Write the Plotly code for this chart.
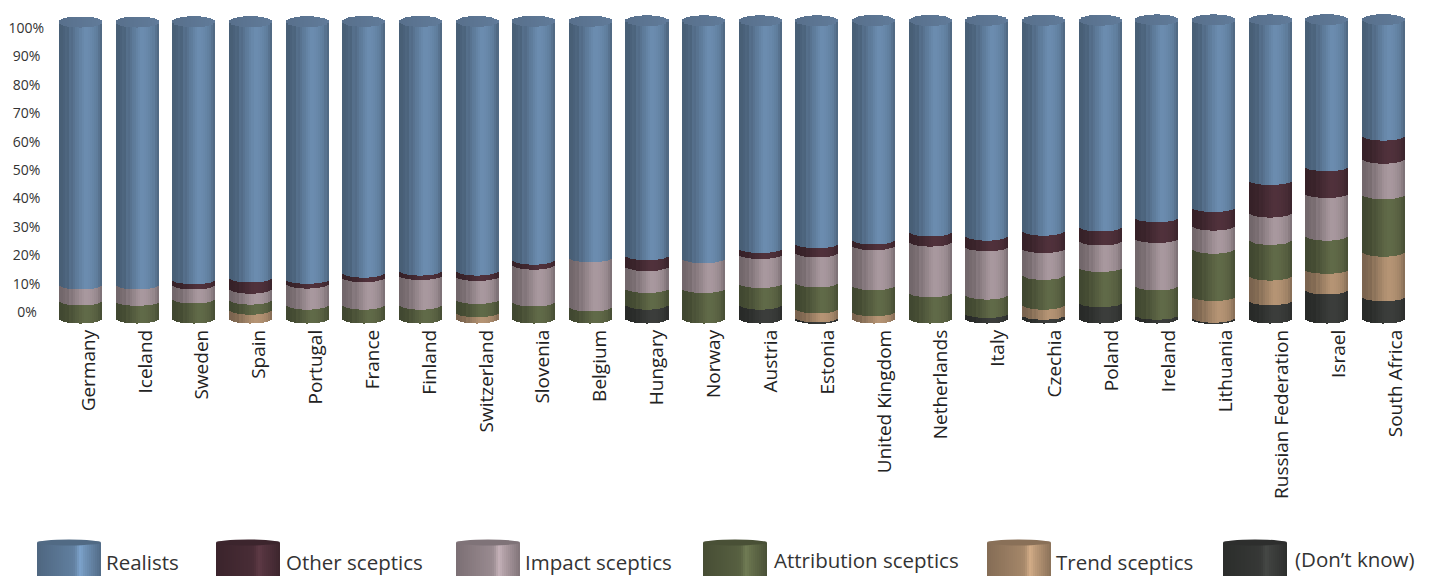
import plotly.graph_objects as go
import numpy as np

countries = ["Germany","Iceland","Sweden","Spain","Portugal","France","Finland","Switzerland","Slovenia","Belgium",
             "Hungary","Norway","Austria","Estonia","United Kingdom","Netherlands","Italy","Czechia","Poland","Ireland",
             "Lithuania","Russian Federation","Israel","South Africa"]
dont_know   = [0,0,0,0,0,0,0,0,0,0,4.7,0,4.7,0.4,0,0,1.9,1.3,5.5,1.3,0.3,6.2,9.8,7.5]
trend       = [0,0,0,3.0,0,0,0,2.1,0,0,0,0,0,3.0,2.5,0,0,3.4,0,0,7.3,8.3,7.0,15.1]
attribution = [6.1,6.0,6.8,3.4,4.7,4.7,4.7,4.5,5.8,4.1,5.6,10.3,7.3,8.8,8.8,8.9,6.2,10.1,11.9,9.9,16.0,12.1,11.2,19.4]
impact      = [5.4,5.5,4.7,3.7,7.1,9.3,10.0,7.8,12.4,16.6,7.4,10.1,9.8,10.1,13.5,17.1,16.3,9.0,9.0,16.0,7.8,9.2,14.4,12.0]
other       = [0,0,1.8,3.8,1.6,1.5,1.5,1.8,1.7,0,3.7,0,2.0,3.1,1.9,3.4,3.6,5.9,4.7,7.0,6.3,11.0,9.0,7.8]
realists    = [88.5,88.5,86.8,86.2,86.7,84.7,84.0,84.0,80.4,79.6,79.0,80.0,76.6,75.0,73.8,71.1,72.6,70.9,69.5,66.5,63.0,53.9,49.4,39.0]
series_names = ["(Don\u2019t know)","Trend sceptics","Attribution sceptics","Impact sceptics","Other sceptics","Realists"]
tick_values = list(range(0,101,10))
tick_labels = ["0%\u00a0\u00a0","10%\u00a0","20%\u00a0","30%\u00a0","40%\u00a0","50%\u00a0","60%\u00a0","70%\u00a0","80%\u00a0","90%\u00a0","100%"]

colors = {"Realists":(104,136,170),"Other sceptics":(78,48,58),"Impact sceptics":(164,148,154),
          "Attribution sceptics":(94,103,70),"Trend sceptics":(176,144,113),"(Don\u2019t know)":(58,60,58)}
cap_color = (92,117,146)
shade = [.70,.70,.72,.75,.74,.82,.80,.85,.90,.92,.97,1.0,1.03,1.03,1.02,1.0,.98,.95,.92,.85,.78]

# the page puts an 8px margin round the figure, so the figure is that much smaller
OFF = 8
W,H = 1432-OFF,576-OFF
PITCH,CX0,CYL_W = 56.65,80.5,43
PLOT_L,PLOT_B = 46,325
Y0,PX_PER = 319,2.97
LY0,LPX = 312,2.84

def px(x): return (x-OFF)/W
def py(y): return 1-(y-OFF)/H
def tint(c,f):
    return "rgb(%d,%d,%d)"%tuple(min(255,int(v*f)) for v in c)

N = len(shade)
u = (np.arange(N)+.5)/N*2-1
strip_off = u*CYL_W/2/PITCH
strip_w = CYL_W/N/PITCH*1.02
def depth(v):          # ellipse half-height in value units, growing a little with height
    return (4.5+v/100*1.0)/PX_PER*np.sqrt(1-u**2)

stack = [dont_know,trend,attribution,impact,other,realists]
cum = np.zeros(len(countries))
fig = go.Figure()
for name,vals in zip(series_names,stack):
    xs,bases,ys,cols = [],[],[],[]
    for i,v in enumerate(vals):
        if v<=0: continue
        d0,d1 = depth(cum[i]),depth(cum[i]+v)
        for k in range(N):
            xs.append(i+strip_off[k])
            bases.append(cum[i]-d0[k])
            ys.append(v+d0[k]-d1[k])
            cols.append(tint(colors[name],shade[k]))
    cum = cum+np.array(vals)
    fig.add_trace(go.Bar(name=name,x=xs,y=ys,base=bases,width=strip_w,yaxis="y2",
                         marker=dict(color=cols,line=dict(width=0)),showlegend=False,hoverinfo="skip"))
# top caps
xs,bases,ys,cols = [],[],[],[]
for i,t in enumerate(cum):
    d = (5.5/PX_PER)*np.sqrt(1-u**2)
    for k in range(N):
        xs.append(i+strip_off[k]); bases.append(t-d[k]); ys.append(2*d[k])
        cols.append(tint(cap_color,.96+.1*(k/N)))
fig.add_trace(go.Bar(name="top",x=xs,y=ys,base=bases,width=strip_w,yaxis="y2",
                     marker=dict(color=cols,line=dict(width=0)),showlegend=False,hoverinfo="skip"))
# carrier for the labelled percentage axis
fig.add_trace(go.Scatter(x=[0],y=[0],mode="markers",marker=dict(opacity=0),showlegend=False,hoverinfo="skip",yaxis="y"))

# legend swatches and labels
legend_items = [("Realists",37,104,562),("Other sceptics",216,284,562),("Impact sceptics",456,523,562),
                ("Attribution sceptics",703,772,560),("Trend sceptics",987,1054,562),("(Don\u2019t know)",1223,1293,559)]
sw_w = 64
shapes,annots = [],[]
for name,x0,tx,ty in legend_items:
    base = colors[name]
    for j in range(32):
        t = j/32
        f = .76+.32*t+.22*np.exp(-((t-.66)/.06)**2) if t<.7 else 1.12-.35*(t-.7)/.3
        shapes.append(dict(type="rect",xref="paper",yref="paper",layer="above",
                           x0=px(x0+j*2),x1=px(x0+j*2+(3 if j<31 else 2)),y0=0,y1=py(542.7),
                           line=dict(width=0),fillcolor=tint(base,f)))
    shapes.append(dict(type="circle",xref="paper",yref="paper",layer="above",
                       x0=px(x0),x1=px(x0+sw_w),y0=py(545.5),y1=py(539.5),
                       line=dict(width=0),fillcolor=tint(base,.78)))
    annots.append(dict(text=name,xref="paper",yref="paper",x=px(tx),y=py(ty),xanchor="left",yanchor="middle",
                       showarrow=False,font=dict(family="Open Sans",size=20.5,color="#333333")))

x_lo = (PLOT_L-CX0)/PITCH
x_hi = (W+OFF-CX0)/PITCH
fig.update_layout(
    width=W,height=H,margin=dict(l=0,r=0,t=0,b=0),autosize=False,
    paper_bgcolor="white",plot_bgcolor="white",barmode="overlay",bargap=0,
    shapes=shapes,annotations=annots,showlegend=False,
    font=dict(family="Open Sans",color="#333333"),
    xaxis=dict(domain=[px(PLOT_L),1],range=[x_lo,x_hi],tickmode="array",automargin=False,
               tickvals=[i+(8+4.5*i/23)/PITCH for i in range(len(countries))],ticktext=countries,tickangle=-90,
               ticklen=0,showgrid=False,zeroline=False,showline=False,
               tickfont=dict(family="Open Sans",size=19,color="#222222")),
    yaxis=dict(domain=[py(PLOT_B),1],range=[(LY0-PLOT_B)/LPX,(LY0-OFF)/LPX],tickmode="array",automargin=False,
               tickvals=tick_values,ticktext=tick_labels,ticklen=0,ticklabelstandoff=1,
               showgrid=False,zeroline=False,showline=False,
               tickfont=dict(family="Open Sans",size=14,color="#333333")),
    yaxis2=dict(domain=[py(PLOT_B),1],range=[(Y0-PLOT_B)/PX_PER,(Y0-OFF)/PX_PER],overlaying="y",side="right",automargin=False,
                showticklabels=False,ticklen=0,showgrid=False,zeroline=False,showline=False),
)
fig.write_html("out.html")
